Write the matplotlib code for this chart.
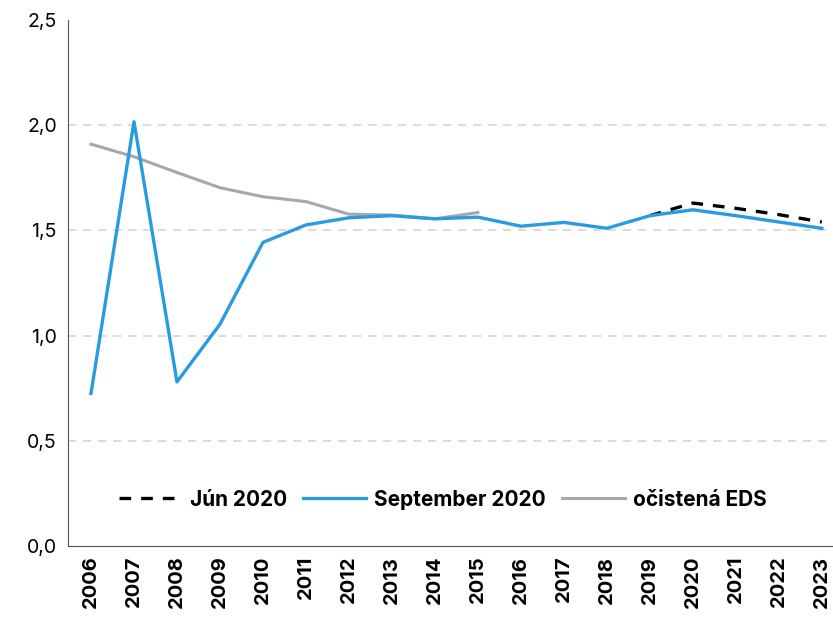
import matplotlib
matplotlib.use("Agg")
import matplotlib.pyplot as plt
import numpy as np

years = [str(y) for y in range(2006, 2024)]
jun_2020 = [None]*13 + [1.57, 1.63, 1.605, 1.575, 1.54]
sep_2020 = [0.725, 2.017, 0.78, 1.054, 1.443, 1.526, 1.56, 1.57, 1.555, 1.563,
            1.52, 1.538, 1.51, 1.57, 1.598, 1.57, 1.54, 1.51]
eds = [1.91, 1.85, 1.775, 1.703, 1.66, 1.637, 1.577, 1.573, 1.555, 1.585] + [None]*8

plt.rcParams['font.family'] = ['Inter', 'DejaVu Sans']

fig = plt.figure(figsize=(8.33, 6.21), dpi=100)
ax = fig.add_axes([68/833, 1-546/621, (833-68)/833, (546-20)/621])

x = np.arange(len(years))
def arr(v):
    return np.array([np.nan if a is None else a for a in v], dtype=float)

ax.plot(x, arr(jun_2020), color='black', lw=2.4, dashes=(3.5, 3), label='Jún 2020', zorder=2)
ax.plot(x, arr(eds), color='#a8a8a8', lw=2.2, label='očistená EDS', zorder=3)
ax.plot(x, arr(sep_2020), color='#2b9be0', lw=2.4, label='September 2020', zorder=4)

ax.set_xlim(-0.535, 17.26)
ax.set_ylim(0, 2.5)
ax.set_yticks([0, 0.5, 1.0, 1.5, 2.0, 2.5])
ax.set_yticklabels(['0,0', '0,5', '1,0', '1,5', '2,0', '2,5'], fontsize=14)
for yv in [0.5, 1.0, 1.5, 2.0]:
    ax.axhline(yv, color='#d4d4d4', lw=1.2, dashes=(5, 4), zorder=1)
ax.set_xticks(x)
ax.set_xticklabels(years, rotation=90, fontsize=14.5, fontweight='bold')
ax.tick_params(axis='both', length=0, pad=8)
ax.tick_params(axis='x', pad=7)

for s in ['top', 'right']:
    ax.spines[s].set_visible(False)
ax.spines['left'].set_color('#555555')
ax.spines['bottom'].set_color('#555555')

h, l = ax.get_legend_handles_labels()
order = [0, 2, 1]
leg = ax.legend([h[i] for i in order], [l[i] for i in order], loc='center',
                bbox_to_anchor=(0.49, 0.088), ncol=3, frameon=False,
                prop={'size': 15, 'weight': 'bold'}, handlelength=3.0,
                columnspacing=0.8, handletextpad=0.4)

fig.savefig('out.png', dpi=100)
